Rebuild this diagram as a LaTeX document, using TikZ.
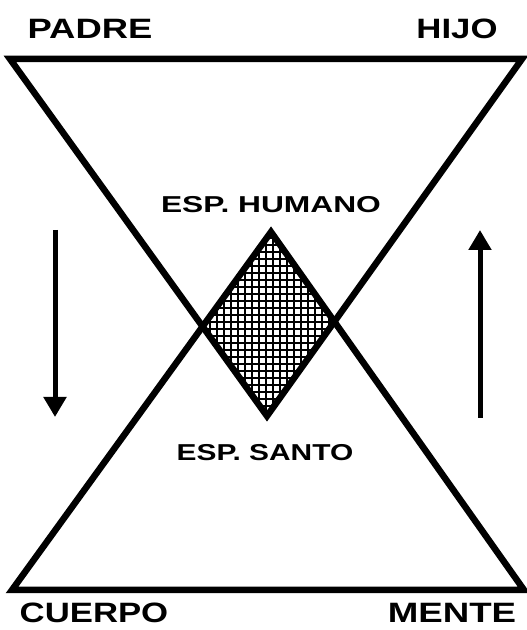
\documentclass[tikz,border=0pt]{standalone}
\usepackage{fontspec}
\setmainfont{Liberation Sans}
\usetikzlibrary{arrows.meta}
\newcommand{\ancho}[2]{\scalebox{#1}[1]{#2}}
\begin{document}
\begin{tikzpicture}[x=1pt, y=1pt, line join=miter, >={Triangle[width=22pt,length=20pt]}]
	\tikzset{big label/.style={font=\bfseries\fontsize{28}{28}\selectfont, inner sep=0pt},
	small label/.style={font=\bfseries\fontsize{23}{23}\selectfont, inner sep=0pt},
	thick side/.style={line width=6.5pt}}
	\useasboundingbox (0,0) rectangle (527,630);
	\coordinate (padre) at (10,571);
	\coordinate (hijo) at (522,571);
	\coordinate (santo) at (267,214);
	\coordinate (cuerpo) at (12,40);
	\coordinate (mente) at (524,40);
	\coordinate (humano) at (271,398);
	\coordinate (izq) at (intersection of padre--santo and cuerpo--humano);
	\coordinate (der) at (intersection of hijo--santo and mente--humano);
	% cuadriculado de la interseccion
	\begin{scope}
		\clip (santo) -- (izq) -- (humano) -- (der) -- cycle;
		\draw[line width=2pt] (izq |- santo) grid[step=7] (der |- humano);
	\end{scope}
	\draw[thick side] (padre) -- (hijo) -- (santo) -- cycle;
	\draw[thick side] (cuerpo) -- (mente) -- (humano) -- cycle;
	% flechas
	\coordinate (bajaA) at (55,400);
	\coordinate (bajaB) at (55,213);
	\coordinate (subeA) at (480,212);
	\coordinate (subeB) at (480,400);
	\draw[->, line width=5pt] (bajaA) -- (bajaB);
	\draw[->, line width=5pt] (subeA) -- (subeB);
	% textos
	\node[big label] (tpadre) at (90,601) {\ancho{1.3}{PADRE}};
	\node[big label] (thijo) at (457,601) {\ancho{1.24}{HIJO}};
	\node[big label] (tcuerpo) at (94,17) {\ancho{1.24}{CUERPO}};
	\node[big label] (tmente) at (452,17) {\ancho{1.31}{MENTE}};
	\node[small label] (thumano) at (271,425) {\ancho{1.38}{ESP. HUMANO}};
	\node[small label] (tsanto) at (265,177) {\ancho{1.3}{ESP. SANTO}};
\end{tikzpicture}
\end{document}
